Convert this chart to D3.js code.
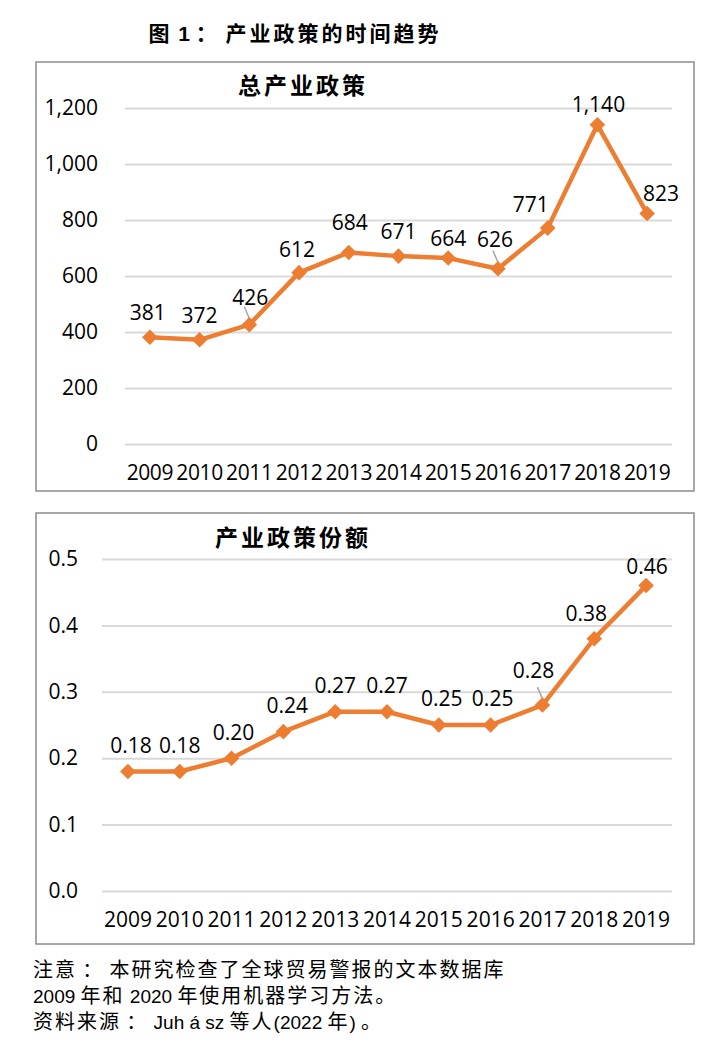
<!DOCTYPE html>
<html>
<head>
<meta charset="utf-8">
<script src="https://cdn.jsdelivr.net/npm/d3@7/dist/d3.min.js"></script>
<style>
  html, body { margin: 0; padding: 0; background: #fff; }
  svg { display: block; }
</style>
</head>
<body>
<div id="chart"></div>
<script>
// data
const years = ["2009", "2010", "2011", "2012", "2013", "2014", "2015", "2016", "2017", "2018", "2019"];
const totalPolicies = [381, 372, 426, 612, 684, 671, 664, 626, 771, 1140, 823];
const policyShare = [0.18, 0.18, 0.20, 0.24, 0.27, 0.27, 0.25, 0.25, 0.28, 0.38, 0.46];
const totalTicks = [0, 200, 400, 600, 800, 1000, 1200];
const shareTicks = [0, 0.1, 0.2, 0.3, 0.4, 0.5];

const figTitle = "图 1 ： 产业政策的时间趋势";
const topTitle = "总产业政策";
const bottomTitle = "产业政策份额";
const notes = [
  "注意 ： 本研究检查了全球贸易警报的文本数据库",
  "2009 年和 2020 年使用机器学习方法。",
  "资料来源 ： Juh á sz 等人(2022 年) 。"
];

const width = 726, height = 1051;
const orange = "#ED7D31";
const numFont = "'Open Sans', 'Noto Sans', sans-serif";
const latinFont = "'Liberation Sans', Arial, sans-serif";
const cjkFont = "'Noto Sans CJK SC', sans-serif";
// latin face first keeps the line box short, CJK glyphs fall back to Noto
const noteCjkFont = "'Liberation Sans', 'Noto Sans CJK SC', sans-serif";

const svg = d3.select("#chart").append("svg")
  .attr("width", width)
  .attr("height", height)
  .attr("viewBox", [0, 0, width, height]);

// mixed text: CJK runs get a bigger, slightly spaced face, the rest a latin face.
// each run is its own <text>, laid end to end
const cjkRe = /[\u3000-\u9fff\uff00-\uffef]/;
function mixedText(parent, str, x, y, o) {
  const g = parent.append("g");
  const runs = str.match(/[\u3000-\u9fff\uff00-\uffef]+|[^\u3000-\u9fff\uff00-\uffef]+/g);
  let cur = 0;
  runs.forEach(r => {
    const cjk = cjkRe.test(r);
    const t = g.append("text")
      .attr("x", cur).attr("y", 0)
      .attr("font-family", cjk ? o.cjkFamily : latinFont)
      .attr("font-size", cjk ? o.cjkSize : o.latinSize)
      .attr("font-weight", o.bold ? "bold" : null)
      .attr("letter-spacing", cjk ? o.spacing : 0)
      .attr("fill", "#000")
      .style("white-space", "pre")
      .text(r);
    cur += t.node().getComputedTextLength();
  });
  const dx = o.anchor === "middle" ? x - cur / 2 : x;
  g.attr("transform", `translate(${dx},${y})`);
}

mixedText(svg, figTitle, 295, 41, {cjkFamily: cjkFont, cjkSize: 21, latinSize: 21, spacing: 3, bold: true, anchor: "middle"});

function drawPanel(opt) {
  const g = svg.append("g");

  g.append("rect")
    .attr("x", opt.box[0]).attr("y", opt.box[1])
    .attr("width", opt.box[2]).attr("height", opt.box[3])
    .attr("fill", "#fff")
    .attr("stroke", "#8c8c8c")
    .attr("stroke-width", 1.5);

  g.append("text")
    .attr("x", opt.titleX).attr("y", opt.titleY)
    .attr("text-anchor", "middle")
    .attr("font-family", cjkFont)
    .attr("font-weight", "bold")
    .attr("font-size", 23)
    .attr("letter-spacing", 3)
    .text(opt.title);

  let x = d3.scaleBand()
    .domain(years)
    .range([opt.left, opt.right]);

  let y = d3.scaleLinear()
    .domain(opt.domain)
    .range([opt.bottom, opt.top]);

  // gridlines + y labels
  let yAxis = gg => gg
    .attr("transform", `translate(${opt.left},0)`)
    .call(d3.axisLeft(y).tickValues(opt.ticks).tickSize(-(opt.right - opt.left)).tickFormat(opt.tickFormat))
    .call(gg => gg.select(".domain").remove())
    .call(gg => gg.selectAll("line").attr("stroke", "#d9d9d9").attr("stroke-width", 2))
    .call(gg => gg.selectAll("text")
      .attr("x", opt.yLabelX - opt.left)
      .attr("font-family", numFont)
      .attr("font-size", 21)
      .attr("fill", "#000"));

  let xAxis = gg => gg
    .attr("transform", `translate(0,${opt.bottom})`)
    .call(d3.axisBottom(x).tickSize(0).tickSizeOuter(0))
    .call(gg => gg.select(".domain").remove())
    .call(gg => gg.selectAll("text")
      .attr("y", opt.xLabelY - opt.bottom)
      .attr("dy", "0.35em")
      .attr("font-family", numFont)
      .attr("font-size", 21)
      .attr("letter-spacing", opt.xSpacing)
      .attr("fill", "#000"));

  g.append("g").call(yAxis);
  g.append("g").call(xAxis);

  const cx = d => x(d) + x.bandwidth() / 2;

  // leader lines for some labels
  opt.leaders.forEach(i => {
    const px = cx(years[i]), py = y(opt.values[i]);
    g.append("line")
      .attr("x1", px - 5).attr("y1", py - 18)
      .attr("x2", px + 1).attr("y2", py - 4)
      .attr("stroke", "#a6a6a6")
      .attr("stroke-width", 1.5);
  });

  let line = d3.line()
    .x((d, i) => cx(years[i]))
    .y(d => y(d));

  g.append("path")
    .datum(opt.values)
    .attr("fill", "none")
    .attr("stroke", orange)
    .attr("stroke-width", 4.5)
    .attr("stroke-linejoin", "round")
    .attr("d", line);

  g.selectAll(".pt")
    .data(opt.values)
    .join("path")
    .attr("class", "pt")
    .attr("transform", (d, i) => `translate(${cx(years[i])},${y(d)}) rotate(45)`)
    .attr("d", "M-5.5,-5.5H5.5V5.5H-5.5Z")
    .attr("fill", orange);

  g.selectAll(".lbl")
    .data(opt.values)
    .join("text")
    .attr("class", "lbl")
    .attr("x", (d, i) => cx(years[i]) + opt.labelShift[i][0])
    .attr("y", (d, i) => y(d) + opt.labelShift[i][1])
    .attr("text-anchor", "middle")
    .attr("font-family", numFont)
    .attr("font-size", 21)
    .attr("fill", "#000")
    .text(opt.labelFormat);
}

drawPanel({
  box: [36, 62, 658, 429],
  title: topTitle, titleX: 303, titleY: 94,
  left: 125, right: 672, top: 108, bottom: 444,
  domain: [0, 1200], ticks: totalTicks,
  tickFormat: d3.format(","), labelFormat: d3.format(","),
  yLabelX: 98, xLabelY: 473, xSpacing: -0.4,
  values: totalPolicies,
  leaders: [2, 7],
  labelShift: [[-2, -17], [0, -17], [1, -20], [-2, -16], [1, -22], [0, -17], [0, -12], [-3, -22], [-17, -16], [1, -13], [14, -13]]
});

drawPanel({
  box: [36, 513, 658, 431],
  title: bottomTitle, titleX: 293, titleY: 546,
  left: 102, right: 672, top: 559, bottom: 891,
  domain: [0, 0.5], ticks: shareTicks,
  tickFormat: d3.format(".1f"), labelFormat: d3.format(".2f"),
  yLabelX: 78, xLabelY: 920, xSpacing: 0,
  values: policyShare,
  leaders: [8],
  labelShift: [[3, -18], [0, -18], [2, -18], [4, -19], [0, -19], [0, -19], [3, -19], [2, -19], [-9, -27], [-8, -18], [1, -12]]
});

// notes
notes.forEach((d, i) => {
  mixedText(svg, d, 33, 977 + i * 26, {cjkFamily: noteCjkFont, cjkSize: 20, latinSize: 19, spacing: 2});
});
</script>
</body>
</html>
